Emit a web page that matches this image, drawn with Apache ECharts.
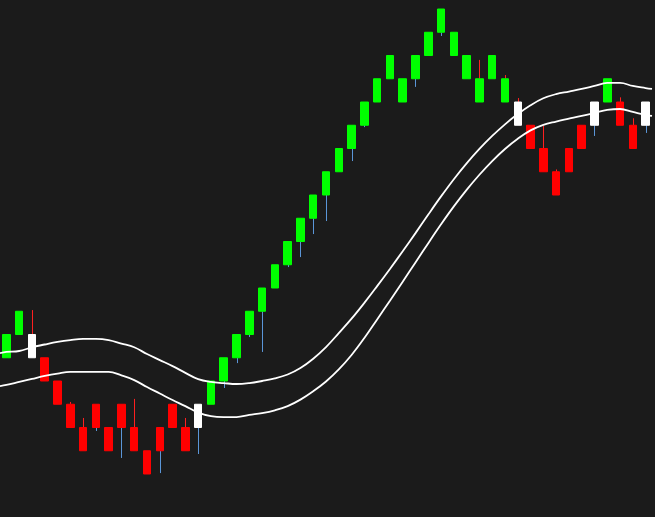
<!DOCTYPE html>
<html>
<head>
<meta charset="utf-8">
<title>Renko bricks with bands</title>
<script src="https://cdn.jsdelivr.net/npm/echarts@6/dist/echarts.min.js"></script>
<style>
  html, body { margin: 0; padding: 0; background: #1b1b1b; }
  #main { width: 655px; height: 517px; }
</style>
</head>
<body>
<div id="main"></div>
<script>
// brick values (one brick = 1 unit)
const opens  = [5, 6, 6, 5, 4, 3, 2, 2, 2, 2, 2, 1, 1, 2, 2, 2, 3, 4, 5, 6, 7, 8, 9, 10, 11, 12, 13, 14, 15, 16, 17, 17, 17, 18, 19, 19, 18, 17, 17, 17, 16, 15, 14, 13, 13, 14, 15, 16, 16, 15, 15]
const closes = [6, 7, 5, 4, 3, 2, 1, 3, 1, 3, 1, 0, 2, 3, 1, 3, 4, 5, 6, 7, 8, 9, 10, 11, 12, 13, 14, 15, 16, 17, 18, 16, 18, 19, 20, 18, 17, 16, 18, 16, 15, 14, 13, 12, 14, 15, 16, 17, 15, 14, 16]
// g = green, r = red, w = white
const kinds = 'ggwrrrrrrrrrrrrwggggggggggggggggggggggggwrrrrrwgrrw'.split('')

// wick tips (index -> value)
const upperWicks = { 2: 7.05, 5: 3.1, 6: 2.41, 10: 3.23, 14: 2.41, 37: 17.81, 39: 17.16, 40: 16.17, 42: 14.97, 43: 13.1, 48: 16.2, 49: 15.3 }
const lowerWicks = { 7: 1.85, 9: 0.69, 12: 0.04, 15: 0.86, 17: 3.7, 18: 4.77, 19: 5.89, 20: 5.25, 22: 8.9, 23: 9.33, 24: 10.32, 25: 10.88, 27: 13.46, 28: 14.92, 32: 16.65, 34: 18.84, 46: 14.54, 50: 14.67 }

// band lines, first and last value are read at the chart edges
const upperBand = [5.20, 5.25, 5.29, 5.45, 5.57, 5.68, 5.76, 5.81, 5.81, 5.76, 5.61, 5.45, 5.16, 4.90, 4.64, 4.35, 4.08, 3.96, 3.91, 3.87, 3.91, 4.00, 4.11, 4.28, 4.56, 4.96, 5.46, 6.06, 6.68, 7.36, 8.08, 8.82, 9.58, 10.36, 11.16, 11.94, 12.68, 13.36, 13.98, 14.54, 15.04, 15.48, 15.86, 16.16, 16.34, 16.45, 16.56, 16.69, 16.82, 16.82, 16.69, 16.60, 16.56]
const lowerBand = [3.78, 3.83, 3.96, 4.09, 4.22, 4.32, 4.39, 4.39, 4.39, 4.39, 4.24, 4.04, 3.74, 3.46, 3.18, 2.92, 2.64, 2.49, 2.45, 2.45, 2.54, 2.62, 2.74, 2.92, 3.20, 3.56, 3.98, 4.50, 5.12, 5.85, 6.65, 7.45, 8.27, 9.10, 9.93, 10.74, 11.51, 12.22, 12.87, 13.46, 13.98, 14.42, 14.78, 15.02, 15.16, 15.28, 15.40, 15.53, 15.66, 15.70, 15.57, 15.44, 15.40]

const colorOf = { g: '#00ff00', r: '#ff0000', w: '#ffffff' }

const categories = opens.map((v, i) => String(i + 1))
const bricks = opens.map((o, i) => {
  const c = closes[i]
  const col = colorOf[kinds[i]]
  return {
    value: [o, c, Math.min(o, c), Math.max(o, c)],
    itemStyle: { color: col, color0: col, borderColor: col, borderColor0: col }
  }
})
const upData = Object.keys(upperWicks).map(k => [+k, Math.max(opens[k], closes[k]), upperWicks[k]])
const downData = Object.keys(lowerWicks).map(k => [+k, Math.min(opens[k], closes[k]), lowerWicks[k]])
const bandX = [-0.5].concat(opens.map((v, i) => i), [opens.length - 0.5])

function wick(params, api) {
  const p1 = api.coord([api.value(0), api.value(1)])
  const p2 = api.coord([api.value(0), api.value(2)])
  const x = Math.round(p1[0]) + 0.5
  return {
    type: 'line',
    shape: { x1: x, y1: p1[1], x2: x, y2: p2[1] },
    style: { stroke: api.visual('color'), lineWidth: 1 }
  }
}

const chart = echarts.init(document.getElementById('main'))
chart.setOption({
  backgroundColor: '#1b1b1b',
  animation: false,
  grid: { left: 0, right: 3, top: 9, bottom: 43 },
  xAxis: [
    { type: 'category', data: categories, show: false },
    { type: 'value', min: -0.5, max: opens.length - 0.5, show: false }
  ],
  yAxis: { type: 'value', min: 0, max: 20, show: false },
  series: [
    {
      type: 'line',
      xAxisIndex: 1,
      data: bandX.map((x, i) => [x, upperBand[i]]),
      smooth: 0.4,
      symbol: 'none',
      lineStyle: { color: '#ffffff', width: 1.8 }
    },
    {
      type: 'line',
      xAxisIndex: 1,
      data: bandX.map((x, i) => [x, lowerBand[i]]),
      smooth: 0.4,
      symbol: 'none',
      lineStyle: { color: '#ffffff', width: 1.8 }
    },
    {
      type: 'custom',
      renderItem: wick,
      itemStyle: { color: '#ff2020' },
      data: upData
    },
    {
      type: 'custom',
      renderItem: wick,
      itemStyle: { color: '#5b96d8' },
      data: downData
    },
    {
      type: 'candlestick',
      barWidth: 8,
      data: bricks,
      itemStyle: { borderWidth: 1 }
    }
  ]
})
</script>
</body>
</html>
